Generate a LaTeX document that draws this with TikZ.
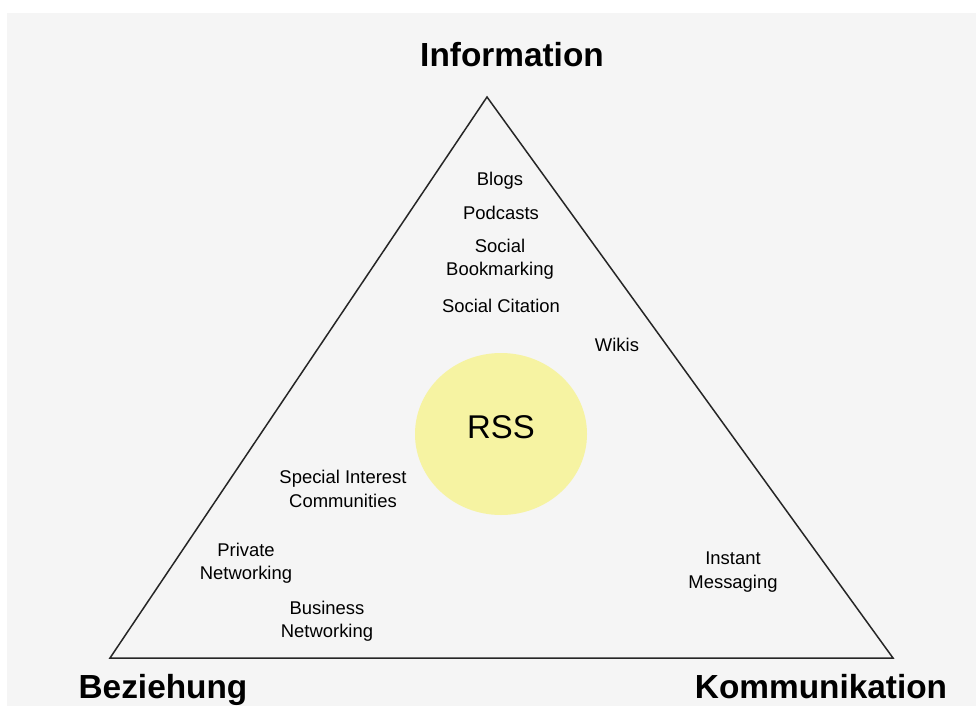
\documentclass[tikz,border=0pt]{standalone}
\usepackage{fontspec}
\setmainfont{Liberation Sans}
\usetikzlibrary{positioning}
\definecolor{bggray}{HTML}{F5F5F5}
\definecolor{rssyellow}{HTML}{F6F3A2}

\begin{document}
\begin{tikzpicture}[x=1bp,y=-1bp,
    item/.style={align=center,font=\fontsize{18.5}{23.5}\selectfont,inner sep=0pt},
    corner/.style={font=\fontsize{33.5}{36}\selectfont\bfseries,anchor=base,inner sep=0pt}]
    \useasboundingbox (0,0) rectangle (976,706);
    \clip (0,0) rectangle (976,706);
    \fill[white] (0,0) rectangle (976,706);
    \fill[bggray] (7,13) rectangle (976,706);
    % triangle
    \coordinate (top) at (487,97);
    \coordinate (left) at (110,658);
    \coordinate (right) at (893,658);
    \draw[line width=1.5bp,black!85,line join=miter] (top)--(left)--(right)--cycle;
    % RSS in the middle
    \fill[rssyellow] (501,434) ellipse [x radius=86, y radius=81];
    \node[font=\fontsize{33}{36}\selectfont,inner sep=0pt] (rss) at (501,427) {RSS};
    \node[item] (blogs) at (500,181) {Blogs};
    \node[item] (podcasts) at (501,213) {Podcasts};
    \node[item] (bookmark) at (500,259) {Social\\Bookmarking};
    \node[item] (citation) at (501,306) {Social Citation};
    \node[item] (wikis) at (617,345) {Wikis};
    \node[item] (sic) at (343,489) {Special Interest\\Communities};
    \node[item] (private) at (246,563) {Private\\Networking};
    \node[item] (business) at (327,621) {Business\\Networking};
    \node[item] (im) at (733,572) {Instant\\Messaging};
    % corners
    \node[corner] (info) at (512,67) {Information};
    \node[corner] (bez) at (163,698) {Beziehung};
    \node[corner] (komm) at (821,698) {Kommunikation};
\end{tikzpicture}
\end{document}
